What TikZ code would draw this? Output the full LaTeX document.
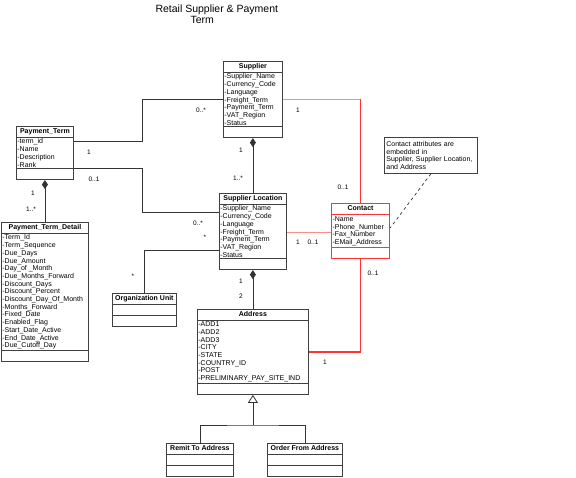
\documentclass[tikz,border=0pt]{standalone}
\usepackage{fontspec}
\setmainfont{Liberation Sans}
\usepackage{tikz}
\usetikzlibrary{arrows.meta,positioning,shapes.multipart}

\begin{document}
\begin{tikzpicture}[
  x=1pt, y=-1pt,
  every node/.style={font=\fontsize{7}{7.7}\selectfont},
  cls/.style={rectangle split, rectangle split parts=3, draw=black!75, line width=0.8pt, fill=white,
    align=left, rectangle split part align={center,left,left}, inner xsep=1pt, inner ysep=1.2pt, anchor=north west},
  contactcls/.style={cls, draw=red!80, line width=1.1pt},
  mult/.style={font=\fontsize{6.5}{7}\selectfont, inner sep=0pt},
  assoc/.style={draw=black!80, line width=0.8pt},
  comp/.style={assoc, {Diamond[length=9pt,width=6pt]}-},
  gen/.style={assoc, -{Triangle[open,length=8pt,width=10pt]}},
  rel/.style={draw=red!80, line width=1.3pt},
  relthin/.style={draw=red!45, line width=0.8pt},
]
  \useasboundingbox (0,0) rectangle (576,477);

  \node[font=\fontsize{10.5}{12}\selectfont, anchor=west] (title) at (152,10) {Retail Supplier \& Payment};
  \node[font=\fontsize{10.5}{12}\selectfont, anchor=west] (title2) at (187,20) {Term};

  % classes
  \node[cls, minimum width=59pt] (sup) at (223,61) {\textbf{Supplier}\strut
    \nodepart{second}-Supplier\_Name\\-Currency\_Code\\-Language\\-Freight\_Term\\-Payment\_Term\\-VAT\_Region\\-Status
    \nodepart{third}\strut};
  \node[cls, minimum width=57pt] (pt) at (16,126) {\textbf{Payment\_Term}\strut
    \nodepart{second}-term\_id\\-Name\\-Description\\-Rank
    \nodepart{third}\strut};
  \node[cls, minimum width=87pt] (ptd) at (1,222) {\textbf{Payment\_Term\_Detail}\strut
    \nodepart{second}-Term\_Id\\-Term\_Sequence\\-Due\_Days\\-Due\_Amount\\-Day\_of \_Month\\-Due\_Months\_Forward\\-Discount\_Days\\-Discount\_Percent\\-Discount\_Day\_Of\_Month\\-Months\_Forward\\-Fixed\_Date\\-Enabled\_Flag\\-Start\_Date\_Active\\-End\_Date\_Active\\-Due\_Cutoff\_Day
    \nodepart{third}\strut};
  \node[cls, minimum width=67pt] (sloc) at (219,193) {\textbf{Supplier Location}\strut
    \nodepart{second}-Supplier\_Name\\-Currency\_Code\\-Language\\-Freight\_Term\\-Payment\_Term\\-VAT\_Region\\-Status
    \nodepart{third}\strut};
  \node[cls, minimum width=64pt] (orgunit) at (112,293) {\textbf{Organization Unit}\strut
    \nodepart{second}\strut
    \nodepart{third}\strut};
  \node[contactcls, minimum width=58pt] (contact) at (331,203) {\textbf{Contact}\strut
    \nodepart{second}-Name\\-Phone\_Number\\-Fax\_Number\\-EMail\_Address
    \nodepart{third}\strut};
  \node[cls, minimum width=111pt] (addr) at (197,309) {\textbf{Address}\strut
    \nodepart{second}-ADD1\\-ADD2\\-ADD3\\-CITY\\-STATE\\-COUNTRY\_ID\\-POST\\-PRELIMINARY\_PAY\_SITE\_IND
    \nodepart{third}\strut};
  \node[cls, minimum width=67pt] (remit) at (166,443) {\textbf{Remit To Address}\strut
    \nodepart{second}\strut
    \nodepart{third}\strut};
  \node[cls, minimum width=75pt] (order) at (267,443) {\textbf{Order From Address}\strut
    \nodepart{second}\strut
    \nodepart{third}\strut};

  \node[draw=black!75, line width=0.8pt, anchor=north west, minimum width=93pt, minimum height=36pt,
    text width=89pt, align=left, inner sep=2pt, font=\fontsize{7}{7.7}\selectfont] (note) at (384,137)
    {Contact attributes are\\embedded in\\Supplier, Supplier Location,\\and Address};

  % associations
  \draw[assoc] (sup.west |- 0,99) -| (142,141) -- (pt.east |- 0,141);
  \draw[assoc] (pt.east |- 0,168) -| (142,212) -- (sloc.west |- 0,212);
  \draw[assoc] (sloc.west |- 0,250) -| (orgunit.north);
  \draw[comp] (sup.south) -- (sloc.north);
  \draw[comp] (pt.south) -- (ptd.north);
  \draw[comp] (sloc.south) -- (addr.north);

  % contact links
  \coordinate (ctop) at (contact.north |- 0,99);
  \draw[relthin] (sup.east |- ctop) -- (ctop);
  \draw[rel] (ctop) -- (contact.north);
  \draw[relthin] (sloc.east |- 0,232) -- (contact.west |- 0,232);
  \draw[rel] (contact.south) |- (addr.east |- 0,352);
  \draw[assoc, dashed, line width=0.7pt] (note.south) -- (contact.east |- 0,228);

  % generalization
  \coordinate (genpt) at (addr.south |- 0,425);
  \draw[gen] (genpt) -- (addr.south);
  \draw[assoc] (remit.north) |- (genpt) -| (order.north);

  % multiplicities
  \node[mult] (m1) at (201,110) {0..*};
  \node[mult] (m2) at (298,110) {1};
  \node[mult] (m3) at (241,150) {1};
  \node[mult] (m4) at (238,178) {1..*};
  \node[mult] (m5) at (343,187) {0..1};
  \node[mult] (m6) at (89,152) {1};
  \node[mult] (m7) at (94,179) {0..1};
  \node[mult] (m8) at (33,193) {1};
  \node[mult] (m9) at (31,209) {1..*};
  \node[mult] (m10) at (198,223) {0..*};
  \node[mult] (m11) at (205,237) {*};
  \node[mult] (m12) at (298,242) {1};
  \node[mult] (m13) at (313,242) {0..1};
  \node[mult] (m14) at (133,276) {*};
  \node[mult] (m15) at (241,281) {1};
  \node[mult] (m16) at (241,296) {2};
  \node[mult] (m17) at (373,273) {0..1};
  \node[mult] (m18) at (325,362) {1};
\end{tikzpicture}
\end{document}
